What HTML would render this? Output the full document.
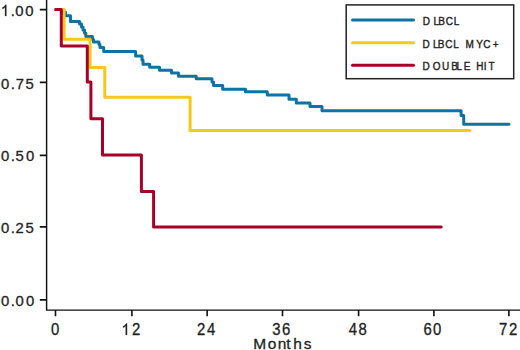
<!DOCTYPE html>
<html>
<head>
<meta charset="utf-8">
<style>
html,body{margin:0;padding:0;background:#fff;}
body{width:520px;height:350px;overflow:hidden;}
svg{display:block;}
text{font-family:"Liberation Sans",sans-serif;fill:#222;}
.tk{font-size:16px;stroke:#222;stroke-width:0.3px;}
.mo{font-size:15.5px;stroke:#222;stroke-width:0.3px;}
.lg{font-size:11.5px;stroke:#222;stroke-width:0.4px;}
</style>
</head>
<body>
<svg width="520" height="350" viewBox="0 0 520 350">
<rect x="0" y="0" width="520" height="350" fill="#fff"/>
<!-- axes -->
<g stroke="#111" stroke-width="1.45" fill="none">
<path d="M46.6 0 V310.1 H520"/>
<path stroke-width="1.7" d="M39.8 9.6 H46.6 M39.8 82.4 H46.6 M39.8 155.3 H46.6 M39.8 226.9 H46.6 M39.8 299.8 H46.6"/>
<path stroke-width="1.6" d="M55.5 310 V316.2 M131.9 310 V316.2 M207.15 310 V316.2 M282.5 310 V316.2 M358.6 310 V316.2 M433.9 310 V316.2 M508.9 310 V316.2"/>
</g>
<!-- y labels -->
<g class="tk">
<text style="font-size:15.4px" transform="scale(0.966,1)" x="11.06 15.75 26.11" y="15.90">.00</text>
<text style="font-size:15.4px" transform="scale(0.966,1)" x="0.95 11.06 16.39 26.51" y="89.00">0.75</text>
<text style="font-size:15.4px" transform="scale(0.966,1)" x="0.95 11.06 16.15 26.93" y="160.95">0.50</text>
<text style="font-size:15.4px" transform="scale(0.966,1)" x="0.95 11.06 16.0 26.51" y="233.40">0.25</text>
<text style="font-size:15.4px" transform="scale(0.966,1)" x="0.95 11.06 16.17 26.93" y="306.40">0.00</text>
</g>
<!-- x labels -->
<g class="tk">
<text style="font-size:16px" transform="scale(0.93,1)" x="54.86" y="334.90">0</text>
<text style="font-size:16px" transform="scale(0.93,1)" x="141.88" y="334.90">2</text>
<text style="font-size:16px" transform="scale(0.93,1)" x="211.78 222.64" y="334.90">24</text>
<text style="font-size:16px" transform="scale(0.93,1)" x="292.62 303.17" y="334.90">36</text>
<text style="font-size:16px" transform="scale(0.93,1)" x="375.12 385.54" y="334.90">48</text>
<text style="font-size:16px" transform="scale(0.93,1)" x="455.32 465.72" y="334.90">60</text>
<text style="font-size:16px" transform="scale(0.93,1)" x="536.49 547.26" y="334.90">72</text>
</g>
<text class="mo" x="253.13 267.75 277.77 286.17 293.13 303.67" y="348.7">Months</text>
<g fill="#222" stroke="#222" stroke-width="0.3">
<path d="M6.34 15.90 L5.03 15.90 L5.03 7.28 Q4.56 7.74 3.79 8.21 Q3.02 8.67 2.40 8.91 L2.40 7.60 Q3.50 7.06 4.32 6.31 Q5.14 5.55 5.48 4.83 L6.34 4.83 Z"/>
<path d="M127.04 334.90 L125.73 334.90 L125.73 325.94 Q125.26 326.42 124.49 326.91 Q123.72 327.39 123.10 327.63 L123.10 326.27 Q124.20 325.72 125.02 324.93 Q125.84 324.14 126.18 323.40 L127.04 323.40 Z"/>
</g>
<!-- curves -->
<g fill="none" stroke-width="3" stroke-linecap="round" stroke-linejoin="round">
<path stroke="#0b74a4" d="M55.7 9.6 H61.4 V12.3 H65.6 V15.8 H70.5 V21.5 H79.6 V24 H81.5 V27 H83 V30 H84.5 V33 H85.8 V36.5 H92.5 V39.5 H93.5 V42 H99 V44.5 H100 V47.5 H103.7 V51.4 H135.6 V56.1 H142 V60 H143 V64.3 H149.7 V67.3 H159.5 V70.2 H171.5 V73 H178.5 V76.3 H196.2 V78.8 H212 V82 H213.5 V85.4 H222.7 V89.3 H245.5 V91.8 H267.3 V95.1 H289 V99.3 H296.3 V103 H310 V106.6 H322 V110.85 H461.1 V115.6 H463.7 V124.3 H509"/>
<path stroke="#f6c81c" d="M55.7 9.6 H64.1 V39.3 H90.1 V67.6 H104.8 V97.3 H190.1 V130.4 H470"/>
<path stroke="#a9002a" d="M55.7 9.6 H61.3 V46 H87.3 V82.1 H90.9 V118.8 H102.5 V155 H141.4 V191.6 H153.6 V227.1 H441.2"/>
</g>
<!-- legend -->
<rect x="346.2" y="4.9" width="167.5" height="73.8" fill="#fff" stroke="#222" stroke-width="1.5"/>
<g stroke-width="3" stroke-linecap="round">
<line x1="352.5" y1="19.9" x2="413.5" y2="19.9" stroke="#0b74a4"/>
<line x1="352.5" y1="42.8" x2="413.5" y2="42.8" stroke="#f6c81c"/>
<line x1="352.5" y1="65.2" x2="413.5" y2="65.2" stroke="#a9002a"/>
</g>
<g class="lg">
<text transform="scale(0.870,1)" x="485.90 498.19 503.71 512.23 521.53" y="25.0">DLBCL</text>
<text transform="scale(0.870,1)" x="485.67 497.62 503.14 511.66 520.95 534.98 547.51 555.34 566.39" y="47.7">DLBCLMYC+</text>
<text transform="scale(0.870,1)" x="485.67 497.56 508.02 518.54 524.75 532.91 547.28 556.12 561.41" y="70.2">DOUBLEHIT</text>
</g>
</svg>
</body>
</html>
